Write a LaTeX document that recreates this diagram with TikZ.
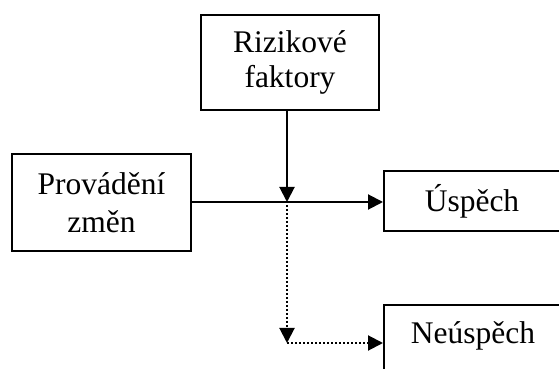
\documentclass[tikz,border=0pt]{standalone}
\usepackage{fontspec}
\setmainfont{Liberation Serif}
\usetikzlibrary{arrows.meta}
\begin{document}
\begin{tikzpicture}[x=1pt,y=1pt,
  box/.style={draw,line width=2pt,inner sep=0pt,align=center,
    font=\fontsize{31.5}{35}\selectfont},
  solidarrow/.style={line width=2pt,-{Triangle[length=15pt,width=15pt]}},
  dotarrow/.style={line width=2pt,dash pattern=on 2pt off 2pt,-{Triangle[length=15pt,width=15pt]}}]
\clip (0,0) rectangle (559,369);
\fill[white] (0,0) rectangle (559,369);
\node[box,minimum width=178pt,minimum height=95pt] (r) at (290,306.5) {Rizikové\\faktory};
\node[box,minimum width=179pt,minimum height=97pt,font=\fontsize{31.5}{38}\selectfont] (p) at (101.5,166) {Provádění\\změn};
\node[box,minimum width=176pt,minimum height=60pt] (u) at (472,168) {Úspěch};
\node[box,minimum width=178pt,minimum height=70pt,text depth=14pt] (n) at (473,29) {Neúspěch};
\coordinate (j) at (287,167);
\coordinate (k) at (287,26);
\draw[solidarrow] (j |- r.south) -- (j);
\draw[solidarrow] (p.east |- j) -- (u.west |- j);
\draw[dotarrow] ([yshift=-3pt]j) -- (k);
\draw[dotarrow] (k) -- (n.west |- k);
\end{tikzpicture}
\end{document}
